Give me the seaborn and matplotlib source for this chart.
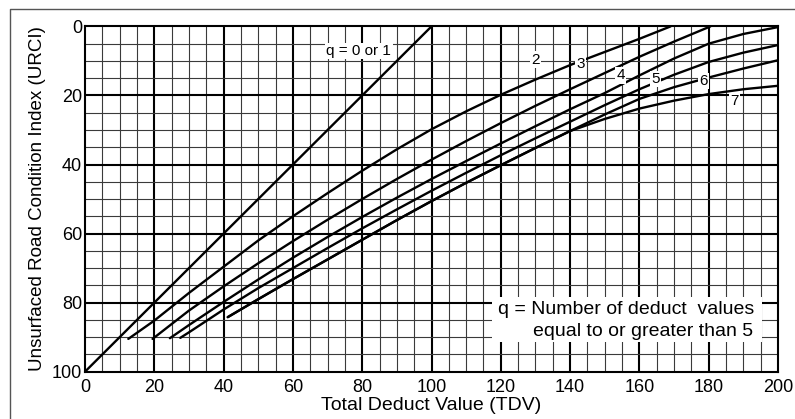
import matplotlib
matplotlib.use("Agg")
import matplotlib.pyplot as plt
from matplotlib.lines import Line2D
import numpy as np
import pandas as pd
import seaborn as sns

# Total deduct value (TDV) and URCI readings for each q-curve
tdv_q01 = [0, 100]
urci_q01 = [100, 0]

tdv_q2 = [12.5, 20, 30, 40, 50, 60, 70, 80, 90, 100, 110, 120, 130, 140, 150, 160, 169]
urci_q2 = [90.5, 85.2, 77.2, 69.6, 62.0, 55.0, 48.3, 41.8, 35.6, 29.8, 24.6, 19.8, 15.4, 11.2, 7.4, 3.6, 0]

tdv_q3 = [19.5, 30, 40, 50, 60, 70, 80, 90, 100, 110, 120, 130, 140, 150, 160, 170, 180.5]
urci_q3 = [90.5, 82.3, 75.3, 68.6, 62.2, 56.0, 50.0, 44.2, 38.6, 33.2, 28.0, 23.0, 18.2, 13.5, 8.8, 4.4, 0]

tdv_q4 = [24.5, 30, 40, 50, 60, 70, 80, 90, 100, 110, 120, 130, 140, 150, 160, 170, 180, 190, 200]
urci_q4 = [90.3, 86.5, 79.8, 73.3, 67.0, 61.0, 55.2, 49.6, 44.2, 39.0, 33.9, 28.9, 24.0, 19.3, 14.2, 9.3, 5.0, 2.2, 0.2]

tdv_q5 = [27.5, 30, 40, 50, 60, 70, 80, 90, 100, 110, 120, 130, 140, 150, 160, 170, 180, 190, 200]
urci_q5 = [90.2, 88.6, 82.0, 75.8, 70.0, 64.2, 58.5, 53.0, 47.6, 42.4, 37.3, 32.4, 27.6, 22.8, 18.2, 14.0, 10.3, 7.6, 5.4]

tdv_q6 = [41.2, 50, 60, 70, 80, 90, 100, 110, 120, 130, 140, 150, 160, 170, 180, 190, 200]
urci_q6 = [84.2, 79.0, 73.2, 67.5, 61.8, 56.1, 50.6, 45.3, 40.2, 35.2, 30.3, 25.5, 21.0, 17.6, 14.8, 12.2, 9.8]

tdv_q7 = [41.2, 50, 60, 70, 80, 90, 100, 110, 120, 130, 140, 150, 160, 170, 180, 190, 200]
urci_q7 = [84.2, 79.0, 73.2, 67.5, 61.8, 56.1, 50.6, 45.3, 40.2, 35.2, 30.3, 26.8, 23.8, 21.5, 19.6, 18.2, 17.2]

curve_names = ["0 or 1", "2", "3", "4", "5", "6", "7"]
curve_tdv = [tdv_q01, tdv_q2, tdv_q3, tdv_q4, tdv_q5, tdv_q6, tdv_q7]
curve_urci = [urci_q01, urci_q2, urci_q3, urci_q4, urci_q5, urci_q6, urci_q7]

# Inline curve labels (text, TDV, URCI)
label_text = ["q = 0 or 1", "2", "3", "4", "5", "6", "7"]
label_tdv = [79, 130, 143, 154.6, 164.7, 178.5, 187.4]
label_urci = [7.1, 9.6, 11.0, 14.2, 15.2, 15.8, 21.7]

x_ticks = [0, 20, 40, 60, 80, 100, 120, 140, 160, 180, 200]
y_ticks = [0, 20, 40, 60, 80, 100]

sns.set_theme(style="white")
plt.rcParams["font.family"] = ["Liberation Sans", "DejaVu Sans"]

fig = plt.figure(figsize=(7.95, 4.19), dpi=100)
ax = fig.add_axes([85 / 795, 1 - 371.7 / 419, (778 - 85) / 795, (371.7 - 26.4) / 419])

frames = []
for name, xs, ys in zip(curve_names, curve_tdv, curve_urci):
    frames.append(pd.DataFrame({"TDV": xs, "URCI": ys, "q": name}))
data = pd.concat(frames, ignore_index=True)

# grid: minor every 5, major every 20
for v in np.arange(5, 200, 5):
    major = v % 20 == 0
    ax.axvline(v, color="black" if major else "#3a3a3a",
               lw=1.5 if major else 0.8, zorder=1)
for v in np.arange(5, 100, 5):
    major = v % 20 == 0
    ax.axhline(v, color="black" if major else "#3a3a3a",
               lw=1.5 if major else 0.8, zorder=1)

sns.lineplot(data=data, x="TDV", y="URCI", hue="q", units="q", estimator=None,
             sort=False, palette=["black"] * len(curve_names), lw=1.7,
             legend=False, ax=ax, zorder=3)

ax.set_xlim(0, 200)
ax.set_ylim(100, 0)
ax.set_xticks(x_ticks)
ax.set_yticks(y_ticks)
ax.tick_params(axis="both", length=0, labelsize=13, colors="black")
ax.tick_params(axis="x", pad=5)
ax.tick_params(axis="y", pad=2)
for s in ax.spines.values():
    s.set_color("black")
    s.set_linewidth(1.5)
    s.set_zorder(5)

ax.set_xlabel("Total Deduct Value (TDV)", fontsize=14, color="black", labelpad=1)
ax.set_ylabel("Unsurfaced Road Condition Index (URCI)", fontsize=13.5,
              color="black", labelpad=4)

for t, x, y in zip(label_text, label_tdv, label_urci):
    ax.text(x, y, t, ha="center", va="center", fontsize=11, color="black",
            zorder=4, bbox=dict(facecolor="white", edgecolor="none", pad=1.0))

# explanatory note in the lower right
ax.add_patch(plt.Rectangle((117.5, 78.4), 77.9, 13.0, facecolor="white",
                           edgecolor="none", zorder=4))
ax.text(119.2, 82.1, "q = Number of deduct  values", ha="left", va="center",
        fontsize=14, color="black", zorder=5)
ax.text(129.3, 88.4, "equal to or greater than 5", ha="left", va="center",
        fontsize=14, color="black", zorder=5)

# page border around the figure
fig.add_artist(Line2D([10 / 795, 10 / 795, 1.0], [0.0, 1 - 9 / 419, 1 - 9 / 419],
                      transform=fig.transFigure, color="#555555", lw=1.0))

fig.savefig("out.png", dpi=100, facecolor="white")
